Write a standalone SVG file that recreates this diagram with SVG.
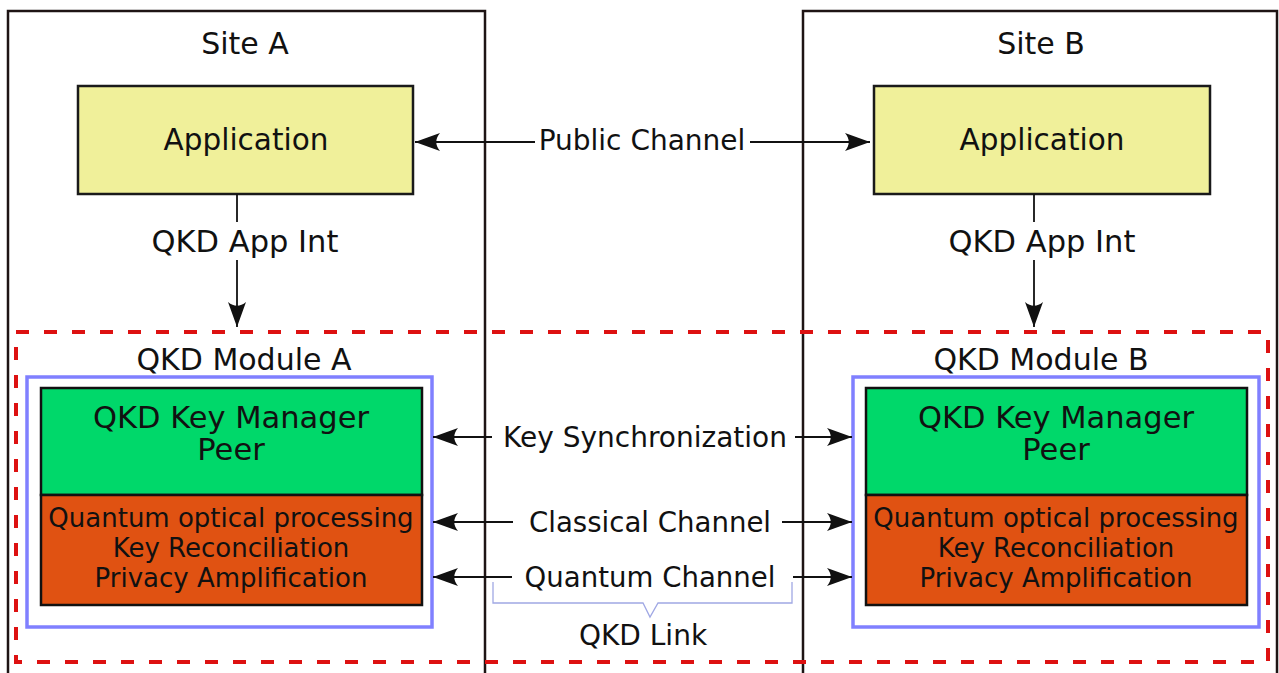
<svg xmlns="http://www.w3.org/2000/svg" width="1279" height="673" viewBox="0 0 1279 673">
  <style>
    text { font-family: "DejaVu Sans", Verdana, sans-serif; fill: #111; text-anchor: middle; }
    .site { fill: none; stroke: #1e1414; stroke-width: 2.5; }
    .app { fill: #f0f09a; stroke: #1a1a1a; stroke-width: 2.5; }
    .module { fill: none; stroke: #dd1111; stroke-width: 4; stroke-dasharray: 13 15; }
    .peer { fill: none; stroke: #8080ff; stroke-width: 3.5; }
    .km { fill: #00d86a; stroke: #111; stroke-width: 2.5; }
    .proc { fill: #e05212; stroke: #111; stroke-width: 2.5; }
    .wire { fill: none; stroke: #111; stroke-width: 1.8; }
    .brace { fill: none; stroke: #a0a8e4; stroke-width: 1.3; }
  </style>
  <defs>
    <marker id="head" markerUnits="userSpaceOnUse" viewBox="-26 -10 28 20" refX="0" refY="0" markerWidth="28" markerHeight="20" orient="auto-start-reverse">
      <path d="M0,0 L-25,-9 C-20,-3 -20,3 -25,9 Z" fill="#111"/>
    </marker>
  </defs>

  <rect width="1279" height="673" fill="#fff"/>

  <!-- sites -->
  <g id="site-a">
    <rect class="site" x="8" y="11" width="477" height="690"/>
    <text x="245" y="54" font-size="30">Site A</text>
  </g>
  <g id="site-b">
    <rect class="site" x="803" y="11" width="474" height="690"/>
    <text x="1041" y="54" font-size="30">Site B</text>
  </g>

  <!-- applications -->
  <g id="app-a">
    <rect class="app" x="78" y="86" width="335" height="108"/>
    <text x="246" y="150" font-size="29.5">Application</text>
  </g>
  <g id="app-b">
    <rect class="app" x="874" y="86" width="336" height="108"/>
    <text x="1042" y="150" font-size="29.5">Application</text>
  </g>

  <!-- QKD module boundary -->
  <g id="qkd-modules">
    <rect class="module" x="16" y="332" width="1252" height="330"/>
    <text x="244" y="370" font-size="30">QKD Module A</text>
    <text x="1041" y="370" font-size="30">QKD Module B</text>
  </g>

  <!-- module A -->
  <g id="module-a">
    <rect class="peer" x="27" y="377" width="405" height="250"/>
    <rect class="km" x="41" y="388" width="381" height="107"/>
    <text x="231" y="428" font-size="30.5">QKD Key Manager</text>
    <text x="231" y="460" font-size="30.5">Peer</text>
    <rect class="proc" x="41" y="495" width="381" height="110"/>
    <text x="231" y="527" font-size="26">Quantum optical processing</text>
    <text x="231" y="557" font-size="26">Key Reconciliation</text>
    <text x="231" y="587" font-size="26">Privacy Amplification</text>
  </g>

  <!-- module B -->
  <g id="module-b">
    <rect class="peer" x="853" y="377" width="406" height="250"/>
    <rect class="km" x="866" y="388" width="381" height="107"/>
    <text x="1056" y="428" font-size="30.5">QKD Key Manager</text>
    <text x="1056" y="460" font-size="30.5">Peer</text>
    <rect class="proc" x="866" y="495" width="381" height="110"/>
    <text x="1056" y="527" font-size="26">Quantum optical processing</text>
    <text x="1056" y="557" font-size="26">Key Reconciliation</text>
    <text x="1056" y="587" font-size="26">Privacy Amplification</text>
  </g>

  <!-- connectors -->
  <g id="connectors">
    <!-- application interfaces -->
    <line class="wire" x1="237" y1="194" x2="237" y2="222"/>
    <line class="wire" x1="237" y1="260" x2="237" y2="327" marker-end="url(#head)"/>
    <text x="245" y="252" font-size="30.5">QKD App Int</text>
    <line class="wire" x1="1034" y1="194" x2="1034" y2="222"/>
    <line class="wire" x1="1034" y1="260" x2="1034" y2="327" marker-end="url(#head)"/>
    <text x="1042" y="252" font-size="30.5">QKD App Int</text>

    <!-- public channel -->
    <line class="wire" x1="415" y1="142" x2="535" y2="142" marker-start="url(#head)"/>
    <line class="wire" x1="750" y1="142" x2="870" y2="142" marker-end="url(#head)"/>
    <text x="642" y="150" font-size="28">Public Channel</text>

    <!-- key synchronization -->
    <line class="wire" x1="433" y1="437" x2="492" y2="437" marker-start="url(#head)"/>
    <line class="wire" x1="795" y1="437" x2="852" y2="437" marker-end="url(#head)"/>
    <text x="645" y="447" font-size="28">Key Synchronization</text>

    <!-- classical channel -->
    <line class="wire" x1="433" y1="522" x2="513" y2="522" marker-start="url(#head)"/>
    <line class="wire" x1="782" y1="522" x2="852" y2="522" marker-end="url(#head)"/>
    <text x="650" y="532" font-size="27.6">Classical Channel</text>

    <!-- quantum channel -->
    <line class="wire" x1="433" y1="577" x2="512" y2="577" marker-start="url(#head)"/>
    <line class="wire" x1="793" y1="577" x2="852" y2="577" marker-end="url(#head)"/>
    <text x="650" y="587" font-size="27.6">Quantum Channel</text>

    <!-- QKD link brace -->
    <path class="brace" d="M493,582 V603 H643 L650,617 L658,603 H792 V582"/>
    <text x="643" y="645" font-size="28">QKD Link</text>
  </g>
</svg>
